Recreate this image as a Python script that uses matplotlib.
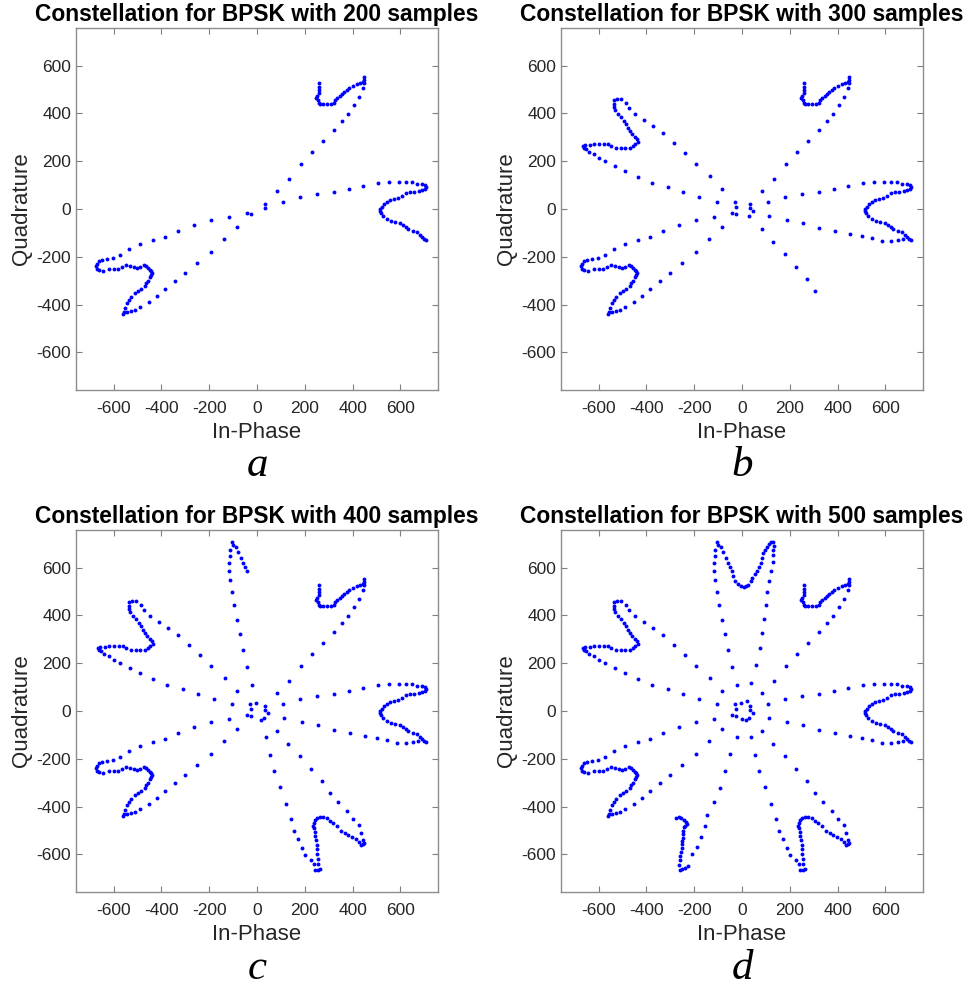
#!/usr/bin/env python

# Constellation plots for BPSK, 200 / 300 / 400 / 500 samples
# The same trajectory is drawn each time, every panel adds the next block of samples.

import matplotlib
matplotlib.use("Agg")
import matplotlib.pyplot as plt

plt.rcParams["font.family"] = ["Liberation Sans", "DejaVu Sans"]
plt.rcParams["axes.unicode_minus"] = False

# samples as (In-Phase, Quadrature), in trajectory order
# --- first 200 samples ---
ur_petal = [(259, 525), (258, 511), (258, 497), (259, 484), (252, 473), (247, 466), (254, 455),
            (258, 445), (264, 438), (278, 438), (294, 438), (310, 438), (320, 445), (327, 455),
            (336, 463), (347, 473), (356, 483), (365, 490), (375, 498), (386, 508), (400, 515),
            (417, 522), (431, 525), (442, 532), (448, 550), (449, 540), (448, 529), (445, 508)]
arm_ur_ll = [(425, 470), (406, 435), (382, 399), (356, 366), (321, 331), (276, 285), (230, 239),
             (183, 187), (132, 127), (85, 74), (33, 22), (-24, -21), (-83, -74), (-138, -126),
             (-193, -180), (-249, -225), (-303, -267), (-345, -301), (-384, -334), (-419, -364),
             (-452, -387), (-488, -409), (-511, -423), (-529, -426), (-544, -431), (-561, -438)]
ll_petal = [(-558, -431), (-551, -415), (-544, -395), (-537, -380), (-529, -366), (-512, -352),
            (-498, -345), (-484, -334), (-470, -324), (-463, -311), (-456, -300), (-449, -286),
            (-442, -275), (-441, -268), (-442, -261), (-449, -255), (-456, -247), (-463, -238),
            (-474, -236), (-488, -242), (-502, -247), (-516, -243), (-533, -237), (-547, -233),
            (-565, -241), (-582, -253), (-600, -251), (-617, -251), (-642, -261), (-659, -257),
            (-668, -250), (-673, -240), (-670, -228)]
arm_ll_r = [(-661, -216), (-647, -214), (-628, -211), (-604, -205), (-575, -191), (-536, -169),
            (-490, -145), (-437, -130), (-385, -117), (-329, -94), (-264, -67), (-194, -46),
            (-117, -32), (-42, -15), (33, 4), (107, 29), (181, 49), (252, 64), (322, 73),
            (386, 84), (445, 96), (505, 107), (551, 112), (593, 114), (622, 114), (647, 112),
            (671, 106), (689, 103), (703, 99)]
r_petal = [(707, 92), (701, 82), (689, 78), (678, 75), (658, 73), (640, 71), (622, 66), (605, 54),
           (589, 45), (571, 42), (557, 38), (543, 31), (532, 20), (522, 10), (516, 0), (516, -8),
           (519, -17), (529, -31), (543, -42), (560, -49), (578, -55), (596, -59), (610, -66),
           (624, -75), (633, -85), (651, -91), (668, -96), (682, -108), (689, -119), (699, -127),
           (706, -130)]

# --- samples 201-300 ---
arm_r_ul = [(675, -127), (651, -130), (624, -133), (585, -133), (544, -123), (501, -112),
            (453, -103), (389, -94), (321, -78), (257, -59), (188, -46), (114, -28), (47, -7),
            (-24, 7), (-103, 29), (-181, 50), (-248, 73), (-311, 93), (-375, 110), (-434, 135),
            (-488, 158), (-532, 181), (-571, 201), (-600, 215), (-621, 229), (-638, 240),
            (-652, 250), (-661, 257), (-666, 265)]
ul_petal = [(-656, 268), (-635, 268), (-620, 271), (-596, 271), (-579, 271), (-561, 271),
            (-547, 264), (-526, 254), (-508, 254), (-488, 254), (-470, 257), (-456, 264),
            (-446, 271), (-435, 282), (-438, 292), (-446, 301), (-458, 313), (-467, 326),
            (-477, 340), (-484, 354), (-494, 368), (-505, 385), (-519, 399), (-530, 413),
            (-536, 427), (-537, 441), (-537, 456), (-522, 462), (-504, 462), (-487, 445)]
arm_ul_lr = [(-472, 421), (-446, 396), (-409, 374), (-371, 349), (-329, 318), (-283, 276),
             (-240, 234), (-191, 188), (-133, 137), (-85, 82), (-29, 30), (30, -28), (82, -85),
             (131, -137), (178, -189), (226, -243), (271, -294), (304, -341)]

# --- samples 301-400 ---
lr_petal = [(337, -381), (375, -417), (403, -452), (425, -477), (434, -509), (445, -540),
            (448, -551), (442, -558), (434, -561), (428, -547), (414, -537), (399, -529),
            (382, -519), (366, -512), (350, -501), (333, -482), (319, -470), (305, -461),
            (291, -449), (278, -445), (264, -445), (252, -449), (243, -456), (239, -470),
            (236, -481), (239, -491), (243, -505), (244, -523), (247, -540), (250, -561),
            (252, -579), (252, -596), (257, -617), (257, -638), (264, -659), (254, -663),
            (244, -666)]
arm_lr_top = [(239, -641), (225, -624), (201, -603), (187, -574), (172, -536), (155, -501),
              (142, -452), (120, -387), (96, -318), (72, -251), (53, -183), (36, -108),
              (15, -38), (-6, 35), (-21, 107), (-42, 183), (-59, 255), (-73, 322), (-85, 382),
              (-95, 442), (-105, 498), (-114, 546), (-117, 585), (-119, 620), (-114, 647),
              (-112, 675), (-106, 706)]
top_petal_a = [(-100, 696), (-89, 686), (-78, 664), (-67, 640), (-59, 620), (-49, 601), (-40, 585)]

# --- samples 401-500 ---
top_petal_b = [(-36, 564), (-28, 543), (-17, 532), (-3, 522), (8, 519), (18, 521), (26, 529),
               (36, 543), (43, 557), (54, 571), (64, 585), (71, 603), (78, 620), (82, 640),
               (88, 659), (96, 675), (103, 686), (113, 700), (121, 706), (130, 706), (132, 692),
               (130, 675), (128, 654), (128, 624), (123, 587), (114, 543), (106, 498),
               (100, 445), (93, 386), (85, 325), (74, 262), (59, 194), (39, 118)]
arm_top_bl = [(19, 40), (0, -34), (-22, -108), (-50, -178), (-73, -251), (-92, -321),
              (-119, -382), (-145, -435), (-156, -482), (-170, -529), (-187, -568),
              (-208, -596), (-226, -648), (-240, -655), (-251, -662), (-261, -666)]
bl_petal = [(-265, -645), (-261, -624), (-258, -606), (-254, -589), (-251, -572), (-251, -558),
            (-250, -544), (-248, -530), (-248, -516), (-247, -501), (-244, -487), (-237, -482),
            (-229, -473), (-233, -463), (-243, -456), (-254, -446), (-265, -445), (-275, -446)]

blocks = [ur_petal + arm_ur_ll + ll_petal + arm_ll_r + r_petal,
          arm_r_ul + ul_petal + arm_ul_lr,
          lr_petal + arm_lr_top + top_petal_a,
          top_petal_b + arm_top_bl + bl_petal]
sample_counts = [200, 300, 400, 500]
letters = ["a", "b", "c", "d"]
ticks = [-600, -400, -200, 0, 200, 400, 600]

# figure in pixels: 968 x 988, axes boxes are 362 px squares
W, H = 968, 988
box = 362
corners = [(76, 28), (561, 28), (76, 530), (561, 530)]   # left, top
letter_base = [476.5, 476.5, 979, 979]

fig = plt.figure(figsize=(W / 100, H / 100), dpi=100)

for k in range(4):
    left, top = corners[k]
    ax = fig.add_axes([left / W, 1 - (top + box) / H, box / W, box / H])

    # every panel shows all samples up to its count
    pts = [p for b in blocks[:k + 1] for p in b]
    i_vals = [p[0] for p in pts]
    q_vals = [p[1] for p in pts]
    ax.plot(i_vals, q_vals, "o", color="blue", markersize=2.8, markeredgewidth=0)

    ax.set_xlim(-757, 757)
    ax.set_ylim(-757, 757)
    ax.set_xticks(ticks)
    ax.set_yticks(ticks)
    ax.tick_params(direction="in", length=4, top=True, right=True, color="#7f7f7f",
                   labelcolor="#262626", labelsize=12.5)
    ax.tick_params(axis="x", pad=8)
    ax.tick_params(axis="y", pad=3.5)
    for s in ax.spines.values():
        s.set_color("#8c8c8c")
        s.set_linewidth(1.0)

    ax.set_title("Constellation for BPSK with {} samples".format(sample_counts[k]),
                 fontsize=16.4, fontweight="bold", pad=5)
    ax.set_xlabel("In-Phase", fontsize=16, color="#262626", labelpad=4)
    ax.set_ylabel("Quadrature", fontsize=16, color="#262626", labelpad=3)

    # panel letter under the axes
    fig.text((left + box / 2) / W, 1 - letter_base[k] / H, letters[k], fontsize=31,
             family=["Liberation Serif", "DejaVu Serif"], style="italic",
             ha="center", va="baseline")

fig.savefig("out.png", dpi=100)
